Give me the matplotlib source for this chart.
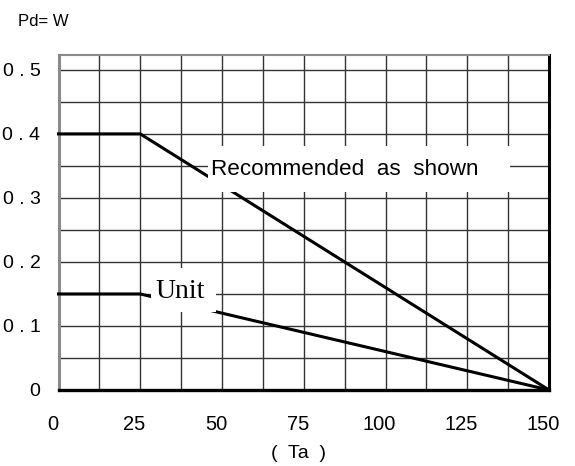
import numpy as np
import matplotlib
matplotlib.use("Agg")
import matplotlib.pyplot as plt
from matplotlib.patches import Rectangle
from matplotlib.transforms import ScaledTranslation

# Power derating curves: allowable dissipation Pd (W) versus ambient Ta
ta_ticks = [0, 25, 50, 75, 100, 125, 150]
ta_tick_labels = ["0", "25", "50", "75", "100", "125", "150"]
pd_ticks = [0.0, 0.1, 0.2, 0.3, 0.4, 0.5]
pd_tick_labels = ["0", "0 . 1", "0 . 2", "0 . 3", "0 . 4", "0 . 5"]

recommended_ta = [0, 25, 150]
recommended_pd = [0.4, 0.4, 0.0]
unit_ta = [0, 25, 150]
unit_pd = [0.15, 0.15, 0.0]

SANS = "Liberation Sans"
SERIF = "Liberation Serif"

fig = plt.figure(figsize=(5.75, 4.66), dpi=100)
ax = fig.add_axes([58.5 / 575, 1 - 390 / 466, 490.5 / 575, (390 - 54.5) / 466])

ax.set_xlim(0, 150)
ax.set_ylim(0, 0.524)

# grid: every 12.5 degrees and every 0.05 W
ax.set_xticks(ta_ticks)
ax.set_xticks(np.arange(0, 150.1, 12.5), minor=True)
ax.set_yticks(pd_ticks)
ax.set_yticks(np.arange(0, 0.52, 0.05), minor=True)
ax.grid(which="both", color="#333333", linewidth=1.0, zorder=1)
ax.set_axisbelow(True)

ax.set_xticklabels(ta_tick_labels, fontsize=14.5, family=SANS)
ax.set_yticklabels(pd_tick_labels, fontsize=14, family=SANS)
ax.tick_params(which="both", length=0)
ax.tick_params(axis="x", pad=18)
ax.tick_params(axis="y", pad=13)
shift = ScaledTranslation(-0.06, 0, fig.dpi_scale_trans)
for lbl in ax.get_xticklabels():
    lbl.set_transform(lbl.get_transform() + shift)

# frame
ax.spines["left"].set_color("#8a8a8a")
ax.spines["left"].set_linewidth(2.2)
ax.spines["top"].set_color("#8a8a8a")
ax.spines["top"].set_linewidth(1.5)
ax.spines["right"].set_color("black")
ax.spines["right"].set_linewidth(2.2)
ax.spines["bottom"].set_color("black")
ax.spines["bottom"].set_linewidth(2.4)

# derating curves
ax.plot(recommended_ta, recommended_pd, color="black", linewidth=2.2,
        solid_joinstyle="miter", solid_capstyle="projecting",
        zorder=3, clip_on=False)
ax.plot(unit_ta, unit_pd, color="black", linewidth=2.2,
        solid_joinstyle="miter", solid_capstyle="projecting",
        zorder=3, clip_on=False)

# label panels that mask the grid and curves underneath
ax.add_patch(Rectangle((45.6, 0.309), 92.4, 0.072, facecolor="white",
                       edgecolor="none", zorder=4))
ax.add_patch(Rectangle((28.2, 0.122), 20.0, 0.068, facecolor="white",
                       edgecolor="none", zorder=4))

ax.text(46.5, 0.336, "Recommended  as  shown", fontsize=16.2, family=SANS,
        ha="left", va="baseline", zorder=5)
ax.text(37.3, 0.144, "Unit", fontsize=20, family=SERIF,
        ha="center", va="baseline", zorder=5)

fig.text(18 / 575, 1 - 21 / 466, "Pd= W", fontsize=12, family=SANS,
         ha="left", va="center")
fig.text(298 / 575, 1 - 454 / 466, "(  Ta  )", fontsize=14, family=SANS,
         ha="center", va="center")

fig.savefig("out.png", dpi=100, facecolor="white")
